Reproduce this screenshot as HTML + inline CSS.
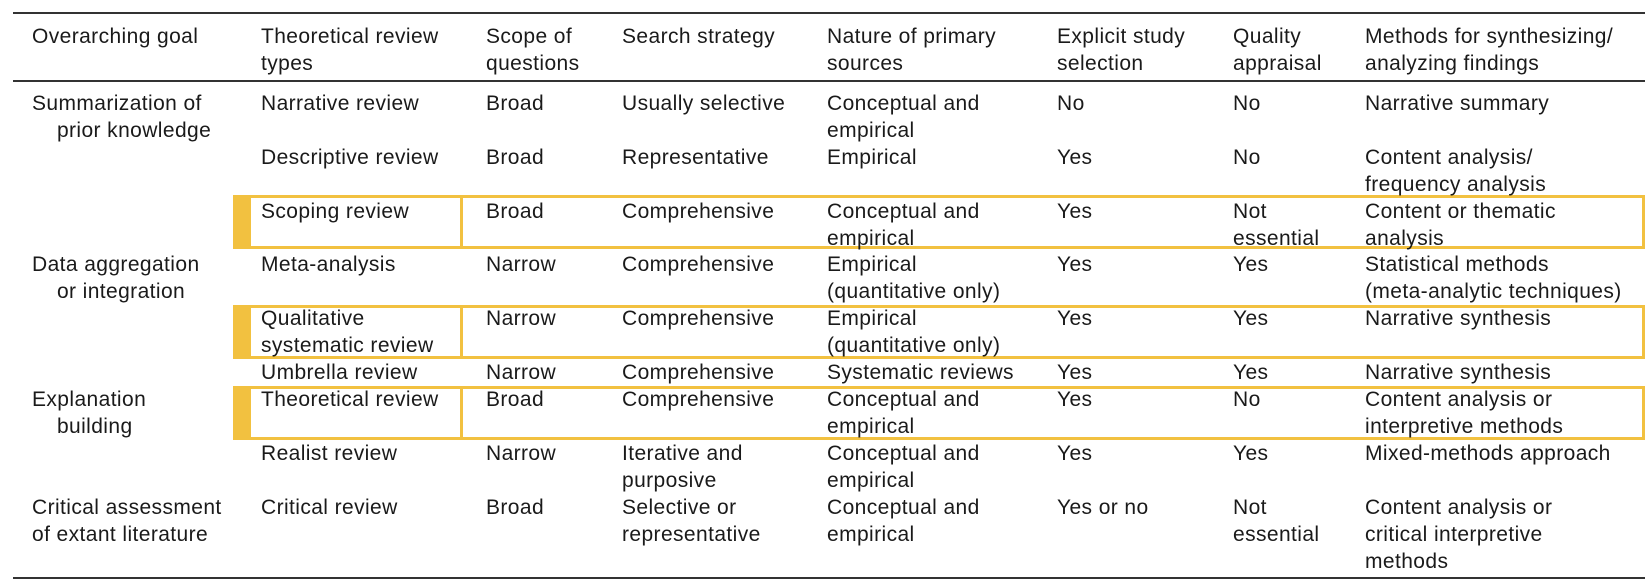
<!DOCTYPE html>
<html><head><meta charset="utf-8"><style>
body{margin:0;width:1652px;height:588px;background:#fff;position:relative;overflow:hidden;font-family:"Liberation Sans",sans-serif;color:#1a1a1a;}
.t{position:absolute;font-size:21px;line-height:27px;white-space:nowrap;letter-spacing:0.4px;margin-top:2px;}
.hl{position:absolute;left:13px;width:1632px;height:2px;background:#333;}
.box{position:absolute;left:233px;width:1412px;border:3px solid #F2C140;box-sizing:border-box;}
.bar{position:absolute;left:0;top:0;bottom:0;width:15px;background:#F2C140;}
.in{position:absolute;left:224px;top:0;bottom:0;width:3px;background:#F2C140;}
</style></head><body>
<div class="hl" style="top:12px"></div>
<div class="hl" style="top:80px"></div>
<div class="hl" style="top:577px"></div>

<div class="box" style="top:195px;height:54px"><div class="bar"></div><div class="in"></div></div>
<div class="box" style="top:305px;height:54px"><div class="bar"></div><div class="in"></div></div>
<div class="box" style="top:386px;height:54px"><div class="bar"></div><div class="in"></div></div>

<div class="t" style="left:32px;top:21px">Overarching goal</div>
<div class="t" style="left:261px;top:21px">Theoretical review<br>types</div>
<div class="t" style="left:486px;top:21px">Scope of<br>questions</div>
<div class="t" style="left:622px;top:21px">Search strategy</div>
<div class="t" style="left:827px;top:21px">Nature of primary<br>sources</div>
<div class="t" style="left:1057px;top:21px">Explicit study<br>selection</div>
<div class="t" style="left:1233px;top:21px">Quality<br>appraisal</div>
<div class="t" style="left:1365px;top:21px">Methods for synthesizing/<br>analyzing findings</div>

<div class="t" style="left:32px;top:88px">Summarization of<br>&nbsp;&nbsp;&nbsp;&nbsp;prior knowledge</div>
<div class="t" style="left:32px;top:249px">Data aggregation<br>&nbsp;&nbsp;&nbsp;&nbsp;or integration</div>
<div class="t" style="left:32px;top:384px">Explanation<br>&nbsp;&nbsp;&nbsp;&nbsp;building</div>
<div class="t" style="left:32px;top:492px">Critical assessment<br>of extant literature</div>

<div class="t" style="left:261px;top:88px">Narrative review</div>
<div class="t" style="left:486px;top:88px">Broad</div>
<div class="t" style="left:622px;top:88px">Usually selective</div>
<div class="t" style="left:827px;top:88px">Conceptual and<br>empirical</div>
<div class="t" style="left:1057px;top:88px">No</div>
<div class="t" style="left:1233px;top:88px">No</div>
<div class="t" style="left:1365px;top:88px">Narrative summary</div>

<div class="t" style="left:261px;top:142px">Descriptive review</div>
<div class="t" style="left:486px;top:142px">Broad</div>
<div class="t" style="left:622px;top:142px">Representative</div>
<div class="t" style="left:827px;top:142px">Empirical</div>
<div class="t" style="left:1057px;top:142px">Yes</div>
<div class="t" style="left:1233px;top:142px">No</div>
<div class="t" style="left:1365px;top:142px">Content analysis/<br>frequency analysis</div>

<div class="t" style="left:261px;top:196px">Scoping review</div>
<div class="t" style="left:486px;top:196px">Broad</div>
<div class="t" style="left:622px;top:196px">Comprehensive</div>
<div class="t" style="left:827px;top:196px">Conceptual and<br>empirical</div>
<div class="t" style="left:1057px;top:196px">Yes</div>
<div class="t" style="left:1233px;top:196px">Not<br>essential</div>
<div class="t" style="left:1365px;top:196px">Content or thematic<br>analysis</div>

<div class="t" style="left:261px;top:249px">Meta-analysis</div>
<div class="t" style="left:486px;top:249px">Narrow</div>
<div class="t" style="left:622px;top:249px">Comprehensive</div>
<div class="t" style="left:827px;top:249px">Empirical<br>(quantitative only)</div>
<div class="t" style="left:1057px;top:249px">Yes</div>
<div class="t" style="left:1233px;top:249px">Yes</div>
<div class="t" style="left:1365px;top:249px">Statistical methods<br>(meta-analytic techniques)</div>

<div class="t" style="left:261px;top:303px">Qualitative<br>systematic review</div>
<div class="t" style="left:486px;top:303px">Narrow</div>
<div class="t" style="left:622px;top:303px">Comprehensive</div>
<div class="t" style="left:827px;top:303px">Empirical<br>(quantitative only)</div>
<div class="t" style="left:1057px;top:303px">Yes</div>
<div class="t" style="left:1233px;top:303px">Yes</div>
<div class="t" style="left:1365px;top:303px">Narrative synthesis</div>

<div class="t" style="left:261px;top:357px">Umbrella review</div>
<div class="t" style="left:486px;top:357px">Narrow</div>
<div class="t" style="left:622px;top:357px">Comprehensive</div>
<div class="t" style="left:827px;top:357px">Systematic reviews</div>
<div class="t" style="left:1057px;top:357px">Yes</div>
<div class="t" style="left:1233px;top:357px">Yes</div>
<div class="t" style="left:1365px;top:357px">Narrative synthesis</div>

<div class="t" style="left:261px;top:384px">Theoretical review</div>
<div class="t" style="left:486px;top:384px">Broad</div>
<div class="t" style="left:622px;top:384px">Comprehensive</div>
<div class="t" style="left:827px;top:384px">Conceptual and<br>empirical</div>
<div class="t" style="left:1057px;top:384px">Yes</div>
<div class="t" style="left:1233px;top:384px">No</div>
<div class="t" style="left:1365px;top:384px">Content analysis or<br>interpretive methods</div>

<div class="t" style="left:261px;top:438px">Realist review</div>
<div class="t" style="left:486px;top:438px">Narrow</div>
<div class="t" style="left:622px;top:438px">Iterative and<br>purposive</div>
<div class="t" style="left:827px;top:438px">Conceptual and<br>empirical</div>
<div class="t" style="left:1057px;top:438px">Yes</div>
<div class="t" style="left:1233px;top:438px">Yes</div>
<div class="t" style="left:1365px;top:438px">Mixed-methods approach</div>

<div class="t" style="left:261px;top:492px">Critical review</div>
<div class="t" style="left:486px;top:492px">Broad</div>
<div class="t" style="left:622px;top:492px">Selective or<br>representative</div>
<div class="t" style="left:827px;top:492px">Conceptual and<br>empirical</div>
<div class="t" style="left:1057px;top:492px">Yes or no</div>
<div class="t" style="left:1233px;top:492px">Not<br>essential</div>
<div class="t" style="left:1365px;top:492px">Content analysis or<br>critical interpretive<br>methods</div>
</body></html>
